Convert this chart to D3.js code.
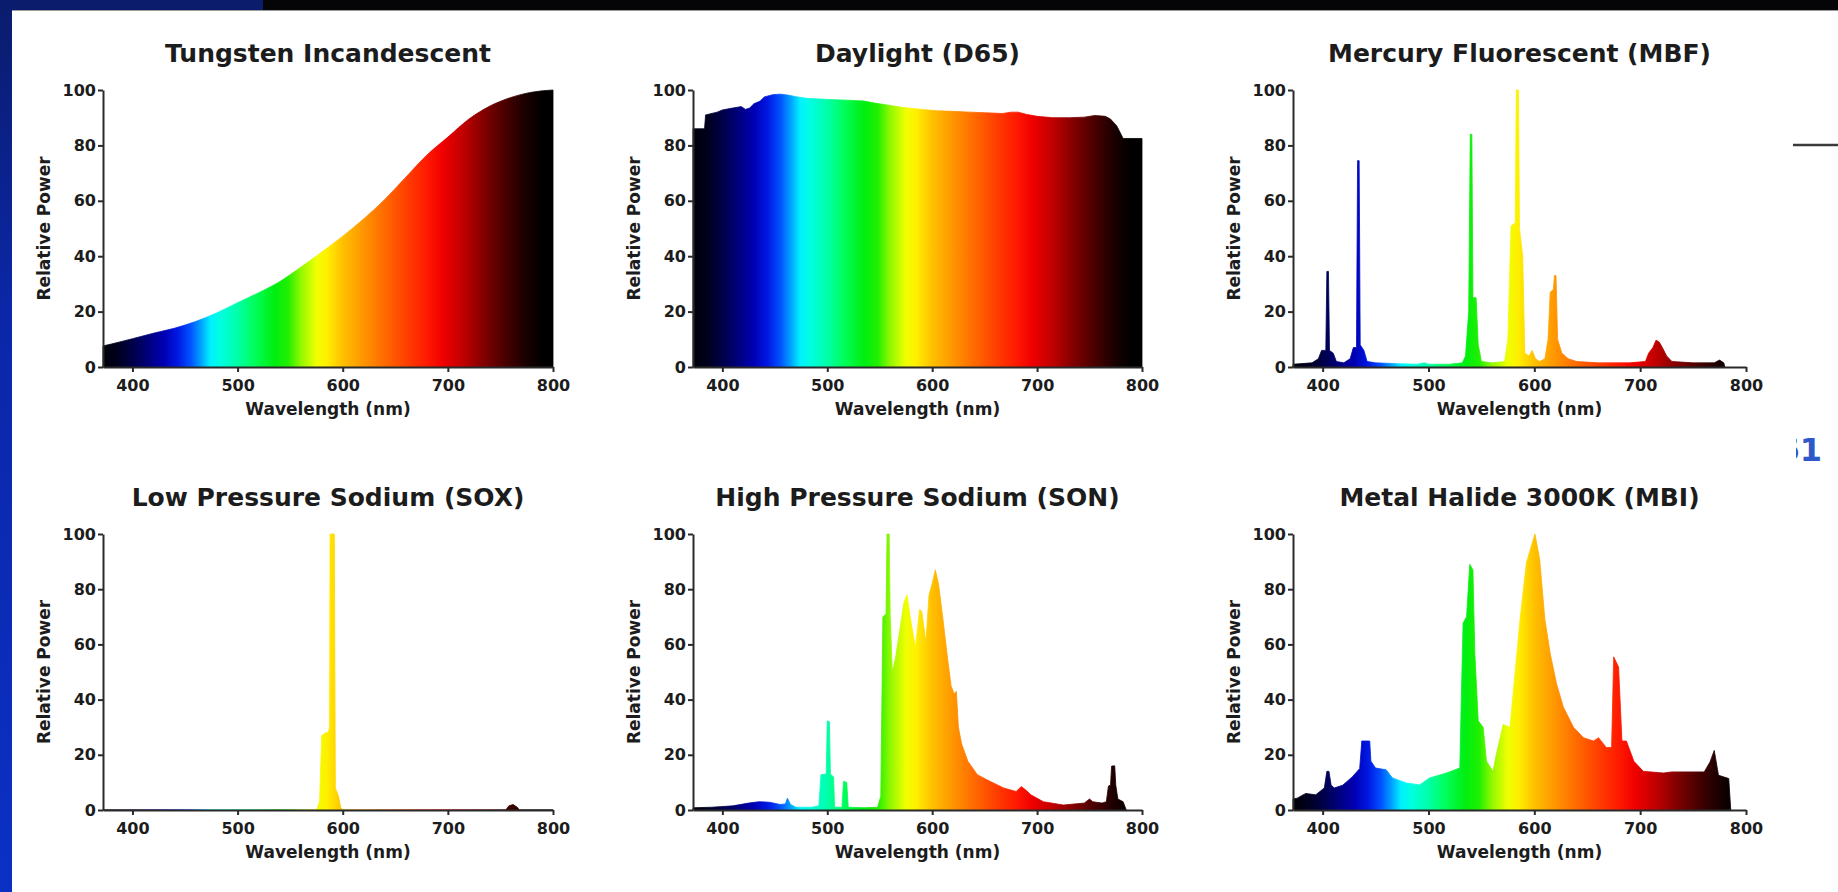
<!DOCTYPE html>
<html>
<head>
<meta charset="utf-8">
<script src="https://cdn.jsdelivr.net/npm/d3@7"></script>
<style>
  html, body { margin: 0; padding: 0; background: #ffffff; overflow: hidden; }
  svg { display: block; }
</style>
</head>
<body>
<svg id="chart" width="1838" height="892"></svg>
<script>
// ---------------- DATA ----------------
const panelTitles = [
  "Tungsten Incandescent", "Daylight (D65)", "Mercury Fluorescent (MBF)",
  "Low Pressure Sodium (SOX)", "High Pressure Sodium (SON)", "Metal Halide 3000K (MBI)"
];
const wavelengthTicks = [400, 500, 600, 700, 800];
const powerTicks = [0, 20, 40, 60, 80, 100];
const wavelengthDomain = [372, 800];
const xAxisTitle = "Wavelength (nm)";
const yAxisTitle = "Relative Power";

const tungstenNm    = [372, 380, 400, 420, 440, 460, 480, 500, 520, 540, 560, 580, 600, 620, 640, 660, 680, 700, 720, 740, 760, 780, 800];
const tungstenPower = [7.6, 8.3, 10.2, 12.2, 14.0, 16.4, 19.5, 23.2, 26.8, 30.8, 36.0, 41.5, 47.2, 53.5, 60.5, 68.5, 76.5, 83.0, 89.5, 94.2, 97.3, 99.2, 100];

const daylightNm    = [372, 383, 384, 395, 400, 410, 418, 422, 426, 430, 436, 440, 448, 455, 462, 470, 480, 500, 520, 535, 545, 557, 572, 590, 604, 620, 636, 650, 667, 675, 682, 690, 700, 715, 731, 745, 755, 765, 770, 776, 780, 782, 800];
const daylightPower = [86, 86, 91, 92, 92.8, 93.5, 94, 93, 93.5, 95, 96, 97.5, 98.3, 98.5, 98.2, 97.6, 97, 96.6, 96.3, 96, 95.3, 94.6, 93.7, 93, 92.5, 92.3, 92, 91.8, 91.5, 92, 92, 91.2, 90.5, 90, 90, 90.2, 90.8, 90.5, 89.5, 87, 84, 82.5, 82.5];

const mercuryNm    = [372, 390, 396, 399, 403, 404, 405.5, 406.5, 410, 413, 420, 426, 429, 432, 433, 434.5, 435.5, 439, 442, 450, 470, 490, 496, 500, 520, 532, 535, 538, 539.5, 541, 542, 545, 547, 550, 560, 572, 575, 578, 582, 583, 585, 586, 589, 591, 595, 598, 601, 605, 610, 613, 615, 618, 619, 620.5, 622, 626, 632, 640, 660, 690, 705, 708, 712, 715, 718, 721, 725, 730, 750, 770, 775, 779, 780];
const mercuryPower = [1, 1.5, 3, 6, 6, 34.5, 34.5, 6, 5, 2, 1.5, 3, 7, 7, 74.5, 74.5, 8, 6, 2, 1.5, 1.2, 1.0, 1.5, 1, 1, 1.5, 4, 20, 84, 84, 25, 25, 8, 2, 1.5, 2, 10, 51, 52, 100, 100, 50, 40, 5, 4, 6, 3, 2, 3, 10, 27, 28, 33, 33, 10, 5, 3, 2, 1.5, 1.5, 2, 5, 7, 9.7, 9, 7, 4, 2, 1.5, 1.5, 2.5, 1.5, 0];

const sodiumLowNm    = [372, 575, 578, 580, 584, 586, 587.5, 588, 592, 593, 596, 598, 600, 755, 758, 762, 766, 768, 800];
const sodiumLowPower = [0, 0, 3, 27, 28, 28, 30, 100, 100, 8, 5, 1, 0, 0, 1.5, 2, 1, 0, 0];

const sodiumHighNm    = [372, 390, 410, 425, 435, 445, 455, 460, 462, 465, 470, 485, 492, 494, 499, 500, 502, 503, 506, 507, 514, 515.5, 518.5, 520, 535, 548, 551, 553, 556, 557, 559, 560, 562, 565, 573, 576, 579, 584, 588, 590, 594, 597, 600, 603, 606, 610, 614, 618, 621, 623, 625, 628, 634, 643, 655, 668, 680, 685, 690, 694, 706, 725, 745, 750, 753, 762, 766, 768, 770, 771, 774, 775, 777, 782, 785];
const sodiumHighPower = [0.8, 1, 1.5, 2.5, 3, 2.8, 2, 2.2, 4.3, 2, 1, 1, 1.5, 12.8, 13, 32.3, 32, 13, 12, 1, 1, 10.4, 10, 1, 0.8, 1, 5, 70, 71, 100, 100, 70, 50, 55, 75, 78, 70, 59, 72.6, 72, 61, 78, 82, 87, 82, 70, 57, 45, 42, 43, 30, 24, 17.7, 12.8, 10.4, 8, 6.7, 8.5, 7, 5.5, 3, 1.8, 2.5, 4, 3, 2.5, 3, 8.7, 9, 15.9, 16, 9, 4, 3, 0];

const halideNm    = [372, 376, 384, 393.5, 401.6, 404, 406, 408, 411, 419, 428, 435, 437, 444.5, 445.6, 450, 460, 466, 479, 491.6, 501, 517, 529.6, 531, 532.7, 536, 539, 542, 543.8, 547, 551.7, 554.8, 561, 564, 570.6, 577, 586.5, 592.5, 600.6, 605, 610, 615, 621, 627.5, 637, 646.4, 656, 660.7, 668, 673, 675, 679.6, 682.8, 687, 694, 703, 722, 729.7, 760.5, 766, 770, 774, 783.7, 785.6];
const halidePower = [4, 4.3, 6, 5.5, 8, 14, 14, 9, 8, 9, 12, 15, 25, 25, 17.7, 15.2, 14.6, 11.6, 9.8, 9.1, 11.6, 13.4, 15.2, 40, 67.7, 70, 89, 87, 56.7, 32.3, 30, 17.7, 14, 20, 31, 30, 69, 89.6, 100, 91, 69, 56.7, 45.7, 37.2, 30, 26.2, 25, 26.2, 22.6, 22.6, 55.5, 51.8, 25, 25, 17.7, 14, 13.4, 13.8, 13.8, 17.4, 21.6, 12.6, 11.4, 0];

const spectrumNm    = [372, 385, 400, 415, 430, 443, 455, 465, 474, 484, 500, 515, 535, 548, 560, 575, 585, 600, 620, 640, 660, 680, 695, 715, 735, 755, 775, 790, 800];
const spectrumColor = ["#000008", "#00001c", "#000048", "#00007c", "#0000b4", "#0018e2", "#0050ff", "#00a0ff", "#00f0ff", "#00ffe0", "#00ffa8", "#00ff60", "#00ee10", "#20f000", "#90f800", "#f0ff00", "#ffef00", "#ffc000", "#ff9500", "#ff6a00", "#ff4000", "#ff1a00", "#f00000", "#c00000", "#800000", "#480000", "#180000", "#000000", "#000000"];

// ---------------- LAYOUT ----------------
const W = 1838, H = 892;
const FONT = "'DejaVu Sans', 'Liberation Sans', Arial, sans-serif";
const TEXT_COLOR = "#1c1c1c";
const cols = [{ left: 103, right: 553 }, { left: 693, right: 1142 }, { left: 1293, right: 1746 }];
const rows = [{ top: 90, bottom: 367 }, { top: 534, bottom: 810 }];

const panels = [
  { nm: tungstenNm, power: tungstenPower, smooth: true },
  { nm: daylightNm, power: daylightPower, smooth: false },
  { nm: mercuryNm, power: mercuryPower, smooth: false },
  { nm: sodiumLowNm, power: sodiumLowPower, smooth: false },
  { nm: sodiumHighNm, power: sodiumHighPower, smooth: false },
  { nm: halideNm, power: halidePower, smooth: false }
];

const svg = d3.select("#chart");
const defs = svg.append("defs");

// background and slide chrome
svg.append("rect").attr("width", W).attr("height", H).attr("fill", "#ffffff");
const side = defs.append("linearGradient").attr("id", "sideGrad")
  .attr("x1", 0).attr("y1", 0).attr("x2", 0).attr("y2", 1);
side.append("stop").attr("offset", 0).attr("stop-color", "#0a1c6c");
side.append("stop").attr("offset", 0.35).attr("stop-color", "#0b27a8");
side.append("stop").attr("offset", 1).attr("stop-color", "#0b30c4");
svg.append("rect").attr("x", 0).attr("y", 0).attr("width", W).attr("height", 10).attr("fill", "#050507");
svg.append("rect").attr("x", 0).attr("y", 0).attr("width", 263).attr("height", 10).attr("fill", "#0b1c6c");
svg.append("line").attr("x1", 12).attr("x2", W).attr("y1", 10.5).attr("y2", 10.5)
  .attr("stroke", "#9a9a9a").attr("stroke-width", 1);
svg.append("rect").attr("x", 0).attr("y", 0).attr("width", 12).attr("height", H).attr("fill", "url(#sideGrad)");

// partially visible slide elements on the right
svg.append("line").attr("x1", 1793).attr("x2", W).attr("y1", 145).attr("y2", 145)
  .attr("stroke", "#3a3a3a").attr("stroke-width", 2.5);
defs.append("clipPath").attr("id", "clip61").append("rect")
  .attr("x", 1796).attr("y", 420).attr("width", 42).attr("height", 50);
svg.append("text").attr("clip-path", "url(#clip61)")
  .attr("x", 1822).attr("y", 461).attr("text-anchor", "end")
  .attr("font-family", FONT).attr("font-weight", "bold").attr("font-size", 32)
  .attr("fill", "#2f58c8").text("61");

const colorScale = d3.scaleLinear().domain(spectrumNm).range(spectrumColor);

panels.forEach((p, i) => {
  const c = cols[i % 3], r = rows[Math.floor(i / 3)];
  const x = d3.scaleLinear().domain(wavelengthDomain).range([c.left, c.right]);
  const y = d3.scaleLinear().domain([0, 100]).range([r.bottom, r.top]);
  const g = svg.append("g").attr("class", "panel");

  // spectral gradient in wavelength space
  const grad = defs.append("linearGradient").attr("id", "spec" + i)
    .attr("gradientUnits", "userSpaceOnUse")
    .attr("x1", x(wavelengthDomain[0])).attr("x2", x(wavelengthDomain[1]))
    .attr("y1", 0).attr("y2", 0);
  spectrumNm.forEach((nm) => {
    grad.append("stop")
      .attr("offset", (nm - wavelengthDomain[0]) / (wavelengthDomain[1] - wavelengthDomain[0]))
      .attr("stop-color", colorScale(nm));
  });

  const data = p.nm.map((nm, k) => ({ nm: nm, v: p.power[k] }));
  const area = d3.area()
    .x(d => x(d.nm)).y0(y(0)).y1(d => y(d.v))
    .curve(p.smooth ? d3.curveMonotoneX : d3.curveLinear);
  g.append("path").datum(data).attr("d", area)
    .attr("fill", "url(#spec" + i + ")")
    .attr("stroke", "url(#spec" + i + ")").attr("stroke-width", 0.8);

  // axes
  const xAxis = d3.axisBottom(x).tickValues(wavelengthTicks).tickSize(5).tickSizeOuter(0).tickPadding(8);
  const yAxis = d3.axisLeft(y).tickValues(powerTicks).tickSize(5).tickSizeOuter(0).tickPadding(2);
  const gx = g.append("g").attr("transform", `translate(0,${r.bottom})`).call(xAxis);
  const gy = g.append("g").attr("transform", `translate(${c.left},0)`).call(yAxis);
  [gx, gy].forEach(a => {
    a.select(".domain").attr("stroke", "#2a2a2a").attr("stroke-width", 2);
    a.selectAll(".tick line").attr("stroke", "#2a2a2a").attr("stroke-width", 2);
    a.selectAll(".tick text").attr("font-family", FONT).attr("font-weight", "bold")
      .attr("font-size", 16).attr("fill", TEXT_COLOR);
  });

  // titles
  g.append("text").attr("x", (c.left + c.right) / 2).attr("y", r.top - 28)
    .attr("text-anchor", "middle").attr("font-family", FONT).attr("font-weight", "bold")
    .attr("font-size", 25).attr("fill", TEXT_COLOR).text(panelTitles[i]);
  g.append("text").attr("x", (c.left + c.right) / 2).attr("y", r.bottom + 48)
    .attr("text-anchor", "middle").attr("font-family", FONT).attr("font-weight", "bold")
    .attr("font-size", 17).attr("fill", TEXT_COLOR).text(xAxisTitle);
  g.append("text")
    .attr("transform", `translate(${c.left - 53},${(r.top + r.bottom) / 2}) rotate(-90)`)
    .attr("text-anchor", "middle").attr("font-family", FONT).attr("font-weight", "bold")
    .attr("font-size", 17).attr("fill", TEXT_COLOR).text(yAxisTitle);
});
</script>
</body>
</html>
